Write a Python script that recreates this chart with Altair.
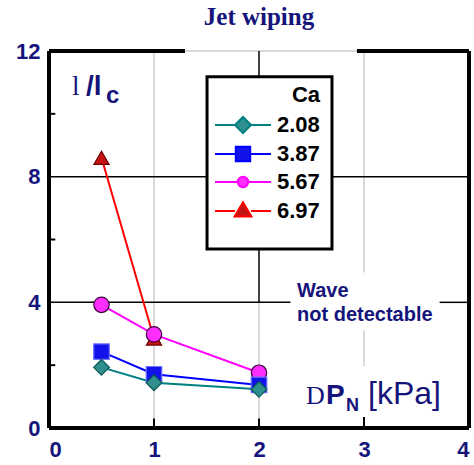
import altair as alt
import pandas as pd

# ---- data ----
series = ["2.08", "3.87", "5.67", "6.97"]
dp_kpa = [0.5, 1.0, 2.0]
ca_208 = [1.93, 1.44, 1.23]
ca_387 = [2.43, 1.71, 1.37]
ca_567 = [3.92, 2.98, 1.76]
ca_697 = [8.60, 2.85]
x_ticks = [0, 1, 2, 3, 4]
y_ticks = [0, 4, 8, 12]

# ---- styles ----
navy = "#14147a"
line_colors = ["#008080", "#0000ff", "#ff00ff", "#ff0000"]
fill_colors = ["#2f8f8f", "#1212ea", "#ff2eff", "#c41414"]
edge_colors = ["#0a5858", "#7373ff", "#3a003a", "#6e0000"]
shapes = ["diamond", "square", "circle", "triangle-up"]
sizes = [250, 230, 135, 240]
legend_paths = [
    "M-3.5,0H-1M1,0H3.5M-1,0L0,-1L1,0L0,1Z",
    "M-3.5,0H-0.9M0.9,0H3.5M-0.9,-0.9H0.9V0.9H-0.9Z",
    "M-3.5,0H-0.65M0.65,0H3.5M-0.65,0A0.65,0.65,0,1,1,0.65,0A0.65,0.65,0,1,1,-0.65,0Z",
    "M-3.5,0H-1M1,0H3.5M0,-1.1L1.05,0.7H-1.05Z",
]

vals = {"2.08": ca_208, "3.87": ca_387, "5.67": ca_567, "6.97": ca_697}
rows = []
for s in reversed(series):
    for xv, yv in zip(dp_kpa, vals[s]):
        rows.append({"series": s, "dp": xv, "lam": yv})
df = pd.DataFrame(rows)

xs = alt.Scale(domain=[0, 4], nice=False, zero=False)
ys = alt.Scale(domain=[0, 12], nice=False, zero=False)
x_axis = alt.Axis(
    title=None, values=x_ticks, format="d", domain=False, ticks=False, grid=False,
    labelFont="Liberation Sans", labelFontSize=22, labelFontWeight="bold",
    labelColor=navy, labelPadding=11)
y_axis = alt.Axis(
    title=None, values=y_ticks, format="d", domain=False, ticks=False, grid=False,
    labelFont="Liberation Sans", labelFontSize=22, labelFontWeight="bold",
    labelColor=navy, labelPadding=9)

def XE(field):
    return alt.X(field, scale=xs, axis=x_axis)

def YE(field):
    return alt.Y(field, scale=ys, axis=y_axis)

# ---- annotation segments (x1, y1, x2, y2) ----
seg_black = pd.DataFrame([
    (0, 8, 4, 8), (0, 4, 2.3, 4), (3.72, 4, 4, 4), (2, 4, 2, 12)],
    columns=["x1", "y1", "x2", "y2"])
seg_gray = pd.DataFrame([
    (1, 0, 1, 12), (2, 0, 2, 4), (3, 4.95, 3, 12), (3, 1.97, 3, 3.1),
    (1.295, 12, 2.933, 12)],
    columns=["x1", "y1", "x2", "y2"])
seg_ticks = pd.DataFrame([
    (0, 2, 0.06, 2), (0, 6, 0.06, 6), (0, 10, 0.06, 10),
    (1, 0, 1, 0.3), (2, 0, 2, 0.3), (3, 0, 3, 0.35)],
    columns=["x1", "y1", "x2", "y2"])
seg_frame = pd.DataFrame([
    (0, 0, 0, 12), (0, 0, 4, 0), (4, 0, 4, 12), (0, 12, 1.295, 12),
    (2.933, 12, 4, 12)],
    columns=["x1", "y1", "x2", "y2"])

def segs(d, color, width):
    return alt.Chart(d).mark_rule(color=color, strokeWidth=width).encode(
        x=XE("x1:Q"), y=YE("y1:Q"), x2="x2:Q", y2="y2:Q")

grid_gray = segs(seg_gray, "#b4b4b4", 1)
grid_black = segs(seg_black, "black", 1.5)
ticks = segs(seg_ticks, "black", 2)
frame = segs(seg_frame, "black", 4)

# legend box
box_df = pd.DataFrame([{"x1": 1.505, "x2": 2.695, "y1": 11.18, "y2": 5.70}])
legend_box = alt.Chart(box_df).mark_rect(fill="white", stroke="black", strokeWidth=3).encode(
    x=XE("x1:Q"), x2="x2:Q", y=YE("y1:Q"), y2="y2:Q")

base = alt.Chart(df)
lines = base.mark_line(strokeWidth=2).encode(
    x=XE("dp:Q"), y=YE("lam:Q"),
    stroke=alt.Stroke("series:N", scale=alt.Scale(domain=series, range=line_colors), legend=None))
points = base.mark_point(filled=True, opacity=1, strokeWidth=1.2).encode(
    x=XE("dp:Q"), y=YE("lam:Q"),
    shape=alt.Shape("series:N", scale=alt.Scale(domain=series, range=shapes), legend=None),
    fill=alt.Fill("series:N", scale=alt.Scale(domain=series, range=fill_colors), legend=None),
    stroke=alt.Stroke("series:N", scale=alt.Scale(domain=series, range=edge_colors), legend=None),
    size=alt.Size("series:N", scale=alt.Scale(domain=series, range=sizes), legend=None))

LEG = dict(title="Ca", orient="none", legendX=164, legendY=34, padding=0,
           titleFont="Liberation Sans", titleFontSize=22, titleFontWeight="bold",
           titleColor="black", titleAnchor="end", titlePadding=7,
           labelFont="Liberation Sans", labelFontSize=22, labelFontWeight="bold",
           labelColor="black", symbolSize=256, symbolStrokeWidth=2, symbolOpacity=1,
           symbolOffset=19, labelOffset=23, rowPadding=5)
legend_layer = base.transform_filter("false").mark_point(
    filled=True, opacity=1, strokeWidth=2).encode(
    x=XE("dp:Q"), y=YE("lam:Q"),
    shape=alt.Shape("series:N", scale=alt.Scale(domain=series, range=legend_paths), legend=alt.Legend(**LEG)),
    fill=alt.Fill("series:N", scale=alt.Scale(domain=series, range=fill_colors), legend=alt.Legend(**LEG)),
    stroke=alt.Stroke("series:N", scale=alt.Scale(domain=series, range=line_colors), legend=alt.Legend(**LEG)))

# ---- text annotations ----
def txt(text, x, y, size, weight="bold", font="Liberation Sans", color=navy):
    return alt.Chart(pd.DataFrame([{"x": x, "y": y}])).mark_text(
        text=text, align="left", baseline="alphabetic", font=font, fontSize=size,
        fontWeight=weight, color=color).encode(x=XE("x:Q"), y=YE("y:Q"))

lam1 = txt("l", 0.219, 10.6, 27, weight="normal", font="Liberation Serif")
lam2 = txt("/l", 0.352, 10.6, 28)
lam3 = txt("c", 0.543, 10.35, 24)
wave = alt.Chart(pd.DataFrame([{"x": 2.362, "y": 4.17}])).mark_text(
    text=["Wave", "not detectable"], align="left", baseline="alphabetic",
    font="Liberation Sans", fontSize=20, fontWeight="bold", color=navy, lineHeight=24).encode(
    x=XE("x:Q"), y=YE("y:Q"))
dp1 = txt("D", 2.448, 0.764, 26, weight="normal", font="Liberation Serif")
dp2 = txt("P", 2.638, 0.764, 28)
dp3 = txt("N", 2.829, 0.54, 18)
dp4 = txt("[kPa]", 3.038, 0.764, 32, weight="normal")

chart = alt.layer(
    grid_gray, grid_black, legend_box, lines, points, legend_layer, ticks, frame,
    lam1, lam2, lam3, wave, dp1, dp2, dp3, dp4
).resolve_scale(
    stroke="independent", fill="independent", shape="independent", size="independent"
).properties(
    width=420, height=377,
    title=alt.TitleParams("Jet wiping", font="Liberation Serif", fontSize=25,
                          fontWeight="bold", color=navy, anchor="middle", offset=10),
    autosize=alt.AutoSizeParams(type="none"),
    padding={"left": 49, "top": 51, "right": 5, "bottom": 37},
    background="white",
).configure_view(stroke=None)

chart.save("out.html", embed_options={"renderer": "svg", "actions": False})
